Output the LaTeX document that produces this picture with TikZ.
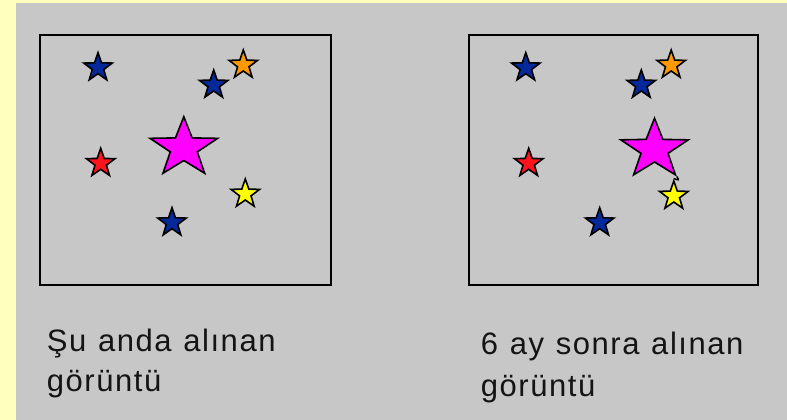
\documentclass[tikz,border=0pt]{standalone}
\usepackage{fontspec}
\setmainfont{Liberation Sans}
\newfontfamily\capfont[LetterSpace=5,WordSpace=1.15]{Liberation Sans}
\usetikzlibrary{shapes.geometric}
\definecolor{bggray}{RGB}{199,199,199}
\definecolor{paleyellow}{RGB}{255,255,190}
\definecolor{sblue}{RGB}{5,40,155}
\definecolor{sorange}{RGB}{255,153,0}
\definecolor{sred}{RGB}{255,20,30}
\definecolor{smagenta}{RGB}{255,0,255}
\definecolor{syellow}{RGB}{255,255,0}
\definecolor{textgray}{RGB}{20,20,20}
\tikzset{
  starbase/.style={shape=star, star points=5, star point ratio=2.5, inner sep=0pt,
     draw=black, line width=1.6pt, line join=miter},
  smallstar/.style={starbase, minimum size=30pt},
  bigstar/.style={starbase, minimum size=71pt, fill=smagenta, yscale=0.88, transform shape},
  framebox/.style={draw=black, line width=2pt},
  caption/.style={anchor=base west, inner sep=0pt, text=textgray,
     font=\capfont\fontsize{31}{40}\selectfont}
}
\begin{document}
\begin{tikzpicture}[x=1pt,y=-1pt]
\useasboundingbox (0,0) rectangle (787,420);
\fill[paleyellow] (0,0) rectangle (787,420);
\fill[bggray] (16,3) rectangle (787,420);
% frames
\draw[framebox] (39.5,35.5) rectangle (331,285);
\draw[framebox] (468.5,35.5) rectangle (758,285);
% positions of the big stars
\coordinate (pm1) at (183.8,148);
\coordinate (pm2) at (654.5,149.5);
% left picture stars
\node[smallstar, fill=sblue]   (a1) at (98,67.7) {};
\node[smallstar, fill=sorange] (b1) at (243.3,65) {};
\node[smallstar, fill=sblue]   (c1) at (213.7,85) {};
\node[bigstar]                 (m1) at (pm1) {};
\node[smallstar, fill=sred]    (d1) at (100.7,163.3) {};
\node[smallstar, fill=syellow] (e1) at (245.3,194) {};
\node[smallstar, fill=sblue]   (f1) at (172,222.7) {};
% right picture stars
\node[smallstar, fill=sblue]   (a2) at (525.8,67.7) {};
\node[smallstar, fill=sorange] (b2) at (671.2,65) {};
\node[smallstar, fill=sblue]   (c2) at (641.3,85) {};
\node[bigstar]                 (m2) at (pm2) {};
\node[smallstar, fill=sred]    (d2) at (528.7,163.3) {};
\node[smallstar, fill=syellow] (e2) at (673.8,196) {};
\node[smallstar, fill=sblue]   (f2) at (599.7,222.7) {};
\draw[line width=1.4pt] (m2.outer point 4) .. controls ++(2.5,4) .. (e2.outer point 1);
% captions
\node[caption] (t1a) at (46.7,351.7) {Şu anda alınan};
\node[caption] (t1b) at (46.7,391.7) {görüntü};
\node[caption] (t2a) at (480.7,354.3) {6 ay sonra alınan};
\node[caption] (t2b) at (480.7,396.5) {görüntü};
\end{tikzpicture}
\end{document}
